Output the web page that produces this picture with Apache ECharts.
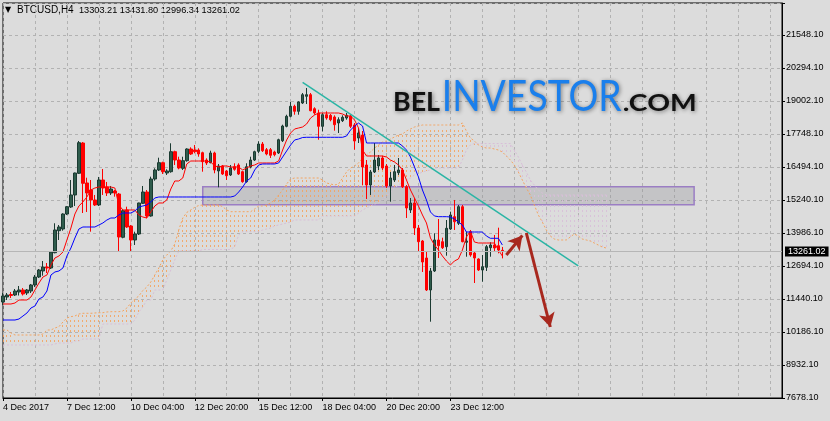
<!DOCTYPE html>
<html><head><meta charset="utf-8">
<script src="https://cdn.jsdelivr.net/npm/echarts/dist/echarts.min.js"></script>
<style>html,body{margin:0;padding:0;background:#dcdcdc}#c{width:830px;height:421px}</style>
</head><body><div id="c"></div>
<script>
// ---------- data ----------
const xTickLabels = ['4 Dec 2017','7 Dec 12:00','10 Dec 04:00','12 Dec 20:00','15 Dec 12:00','18 Dec 04:00','20 Dec 20:00','23 Dec 12:00'];
const yTickLabels = ['7678.10','8932.10','10186.10','11440.10','12694.10','13986.10','15240.10','16494.10','17748.10','19002.10','20294.10','21548.10'];
const symbolName = 'BTCUSD,H4';

const candleOpen = [
11331,11522,11617,11598,11713,11790,11675,11751,11981,12285,
12515,12667,12629,13213,14053,14118,14690,14957,15416,16244,
17400,15874,15606,15225,15034,15988,15721,15492,15568,15454,
13801,14843,14232,13698,13927,15098,15530,14614,16026,16370,
16649,16255,16305,17068,16751,16434,16725,17171,17133,17133,
17030,16751,16649,17019,16332,16523,16332,16179,16496,16561,
16305,15923,16484,16751,17083,17362,17145,17145,17057,17019,
17488,18037,18419,18801,18610,18927,19183,19244,18709,18545,
18037,18480,18457,18393,18164,18251,18354,18419,18087,17591,
17706,16561,15797,16294,16523,16828,16523,15759,15988,16267,
16370,15732,14843,15110,14156,13660,13011,11790,12515,13698,
13633,13442,14118,14587,14336,14969,13610,14015,13202,12973,
12553,12656,13404,13507,13480,13303.21];
const candleClose = [
11560,11598,11579,11751,11790,11637,11790,11981,12285,12553,
12667,12629,13240,14080,14194,14690,14969,15416,16255,17412,
15862,15492,15225,15034,15988,15683,15492,15644,15492,13812,
14816,14194,13698,13927,15110,15530,14614,16026,16370,16649,
16305,16332,17068,16751,16446,16725,17171,16980,17068,16980,
16687,16637,17019,16370,16523,16217,16152,16446,16396,16217,
15923,16496,16751,17068,17362,17106,16980,16931,16954,17526,
18049,18419,18801,18610,18965,19244,19244,18633,18545,18037,
18480,18354,18289,18099,18289,18381,18457,18037,17477,17782,
16484,15797,16294,16751,16828,16446,15759,16064,16305,16370,
15732,14919,15110,14156,13633,12858,11790,12515,13698,13480,
13404,14144,14652,14396,14969,13633,13660,13125,13011,12553,
12679,13442,13507,13392,13316,13261.02];
const candleLow = [
11217,11408,11484,11560,11579,11579,11598,11675,11904,12247,
12335,12438,12591,13190,13698,14053,14652,14919,14996,16217,
14728,14767,14015,14996,14996,15416,15377,15416,15351,13251,
13763,14156,13251,13507,13889,15072,14526,14587,15961,16332,
16217,16179,16267,16561,16396,16370,16687,16942,17007,16877,
16305,16561,16625,16244,15709,16179,15988,16141,16343,16179,
15885,15885,16434,16713,17019,17057,16931,16828,16892,16980,
17438,17999,18381,18480,18480,18889,18889,18610,18480,17526,
17846,18289,18228,17870,17782,18202,18289,17973,17145,17400,
15797,15263,15416,16255,16370,16370,15683,15160,15912,16179,
15683,14538,14728,13889,13251,12477,11751,10579,12477,13011,
13354,13098,14080,14080,14270,13610,13060,13060,12056,12515,
12106,12515,13060,13251,13190,12996.34];
const candleHigh = [
11675,11675,11713,11827,11942,11866,11827,12019,12362,12591,
12896,12820,13278,14336,14270,14717,14996,15988,16268,17477,
17438,16076,15988,15416,16103,16408,15912,15759,15606,15492,
14881,14969,14270,14015,15122,15759,15606,16115,16435,16839,
16687,16396,17389,17106,16877,16877,17198,17236,17324,17198,
17068,16816,17106,17068,16599,16561,16370,16561,16625,16625,
16332,16625,16877,17106,17465,17438,17209,17209,17106,17564,
18099,18480,18965,18862,18992,19309,19500,19309,18763,18671,
18545,18610,18507,18457,18381,18457,18545,18480,18164,17973,
17858,16751,16370,17400,16942,16904,16599,16294,16561,16828,
16446,15797,15301,15301,14270,13698,13240,12629,13953,14499,
13786,14461,14778,15225,15034,15034,14015,14080,13251,12999,
13125,13507,13610,13889,14168,13431.80];

const tenkanSen = [
11255,11255,11255,11293,11408,11408,11408,11522,11790,12056,
12285,12362,12744,13011,13087,13240,13698,14156,14690,14996,
15148,15339,15606,15683,15721,15721,15721,15721,15683,15034,
14843,14843,14843,14843,14652,14576,14538,14767,14996,15110,
15110,15225,15644,15950,15950,16064,16599,16713,16713,16713,
16713,16713,16675,16523,16484,16523,16523,16484,16484,16484,
16370,16446,16523,16561,16637,16637,16637,16637,16637,16713,
17133,17515,17782,17935,17973,18011,18125,18354,18469,18545,
18545,18545,18545,18545,18545,18507,18431,18431,18278,17973,
17133,16904,16904,16904,16904,16904,16866,16751,16675,16561,
16370,15988,15606,15301,14996,14652,14347,13774,13507,13316,
13087,12896,12744,12896,12973,13316,13812,14041,13621,13583,
13583,13583,13583,13583,13316,13087];
const kijunSen = [
10644,10644,10644,10644,10682,10797,10912,11102,11179,11446,
11522,11751,12362,12477,12515,12629,13087,13392,13774,14118,
14194,14194,14194,14194,14270,14347,14461,14538,14538,14652,
14728,14728,14728,14805,14957,14996,15034,15148,15301,15339,
15339,15339,15339,15339,15339,15339,15339,15339,15339,15339,
15339,15339,15339,15339,15339,15339,15339,15339,15377,15530,
15721,15950,16064,16370,16561,16599,16599,16599,16599,16637,
16866,17095,17324,17515,17553,17610,17618,17618,17618,17618,
17618,17618,17618,17618,17618,17618,17667,17896,18049,18164,
18049,17400,17400,17400,17400,17400,17400,17400,17400,17400,
17286,17133,16866,16484,16103,15606,15225,14767,14614,14588,
14588,14588,14576,14499,14385,14270,14003,14003,14003,14003,
14003,13850,13763,13763,13763,13507];
const senkouSpanA = [
10262,10262,10148,10071,10071,10071,10071,10071,10071,10071,
10110,10262,10262,10339,10389,10568,10721,10771,10797,10873,
10900,10900,10900,10912,10923,10923,10950,10961,10961,10961,
10988,11102,11293,11446,11560,11770,11904,12095,12362,12629,
12935,13125,13278,13545,14080,14538,14748,14843,14946,15015,
15034,15034,15034,15034,15034,14969,14843,14778,14778,14778,
14778,14778,14778,14881,14996,14996,15034,15110,15225,15416,
15606,15835,16026,16064,16064,16064,16064,16064,16064,16064,
15988,15874,15835,15797,15835,16064,16294,16446,16523,16637,
16828,16942,17057,17209,17324,17438,17477,17553,17629,17706,
17744,17858,17935,18011,18049,18087,18087,18087,18087,18087,
18087,18087,18087,18087,18087,18164,17858,17591,17477,17324,
17247,17209,17209,17171,17133,17057,16904,16751,16561,16294,
15988,15683,15416,15034,14652,14385,14080,13850,13736,13698,
13698,13698,13812,13927,13850,13736,13698,13660,13583,13507,
13431,13392];
const senkouSpanB = [
9690,9690,9690,9690,9690,9690,9690,9690,9690,9690,
9690,9690,9690,9728,9766,9766,9766,9766,9842,9842,
9919,9919,9919,9919,9919,10491,10491,10491,10491,10491,
10491,10491,10491,10644,10950,11141,11408,11408,11790,11790,
11790,12171,12553,12935,13278,13278,13278,13278,13278,13278,
13335,13335,13335,13335,13335,13335,13335,13335,13442,13889,
14015,14015,14015,14015,14015,14080,14118,14156,14232,14270,
14308,14347,14385,14461,14461,14461,14461,14461,14461,14461,
14614,14614,14614,14614,14614,14614,14614,14614,14614,14728,
14843,14919,14996,15072,15110,15225,15377,15530,15683,15797,
15912,15988,16064,16179,16217,16294,16332,16370,16446,16446,
16446,16446,16446,16446,16446,16751,17133,17324,17381,17381,
17381,17381,17381,17381,17381,17381,17381,17381,17133,16866,
16561,16294,15988,15797,15606,15492,15416,15416,15416,15416,
15416,15416,15416,15416,15416,15416,15416,15416,15416,15416,
15416,15416];

// annotations (drawn in data coordinates: bar index, price)
const supportZone = { fromBar: 50, toBar: 173, top: 15732, bottom: 15045 };
const trendLine = { from: [75, 19717], to: [144, 12709] };
const arrowUp = { from: [126, 13125], to: [130, 13870] };
const arrowDown = { from: [131, 13965], to: [137, 10377] };

// ---------- chart ----------
const TOTAL_BARS = 196;
const categories = Array.from({length: TOTAL_BARS}, (_, i) => String(i));
const candles = candleOpen.map((o, i) => [o, candleClose[i], candleLow[i], candleHigh[i]]);
const cloud = senkouSpanA.map((a, i) => [i, a, senkouSpanB[i]]);
const last = candles.length - 1;
const lastClose = candleClose[last];

const FONT = '"Liberation Sans", Arial, sans-serif';
const GRID_TOP = 3, GRID_BOTTOM = 23, PX_PER_LABEL = 33;
const plotH = 421 - GRID_TOP - GRID_BOTTOM;
const DASH = 2, GAP = 3;

function measure(txt, size, family, weight) {
  const c = document.createElement('canvas').getContext('2d');
  c.font = (weight || 'normal') + ' ' + size + 'px ' + family;
  return c.measureText(txt).width;
}
function logoText(txt, left, right, capCenter, size, color, weight) {
  const fam = 'Lato';
  const w = measure(txt, size, fam, weight);
  return {
    type: 'text', x: left, y: capCenter, scaleX: (right - left) / w, z: 100, silent: true,
    style: {
      text: txt, fontSize: size, fontFamily: fam, fontWeight: weight || 'normal', fill: color,
      align: 'left', verticalAlign: 'middle', textAlign: 'left', textVerticalAlign: 'middle',
      textShadowColor: 'rgba(0,0,0,0.45)', textShadowBlur: 4, textShadowOffsetX: 1, textShadowOffsetY: 1
    }
  };
}

const chart = echarts.init(document.getElementById('c'), null, {renderer: 'canvas'});
chart.setOption({
  animation: false,
  backgroundColor: '#dcdcdc',
  textStyle: { fontFamily: FONT },
  grid: { left: 3, right: 48, top: GRID_TOP, bottom: GRID_BOTTOM, show: true, borderColor: '#000', borderWidth: 1, backgroundColor: 'transparent' },
  xAxis: {
    type: 'category', data: categories, boundaryGap: false,
    axisLine: { lineStyle: { color: '#000', width: 1 } },
    axisTick: { show: true, length: 3, interval: (i) => i % 16 === 0 && i / 16 < xTickLabels.length, lineStyle: { color: '#000' } },
    axisLabel: { interval: 15, align: 'left', margin: 5, fontSize: 9, color: '#000', fontFamily: FONT,
      formatter: (v, i) => (i % 16 === 0 && xTickLabels[i / 16]) || '' },
    splitLine: { show: true, interval: (i) => i % 8 === 0, lineStyle: { color: '#b2b2b2', type: [3, 3], width: 1 } }
  },
  yAxis: [
    { type: 'value', min: 7666.8, max: 22744, show: false, splitLine: { show: false } },
    { type: 'value', position: 'right', min: 0, max: plotH / PX_PER_LABEL, interval: 1,
      axisLine: { show: true, lineStyle: { color: '#000' } },
      axisTick: { show: true, length: 3, lineStyle: { color: '#000' } },
      axisLabel: { fontSize: 9, color: '#000', margin: 4, fontFamily: FONT, showMinLabel: true, showMaxLabel: true,
        formatter: (v) => (Math.abs(v - Math.round(v)) < 1e-6 && yTickLabels[Math.round(v)]) || '' },
      splitLine: { show: true, lineStyle: { color: '#b2b2b2', type: [3, 3], width: 1 } }
    }
  ],
  series: [
    { type: 'custom', name: 'cloud', z: 1, silent: true, clip: true, data: cloud,
      encode: { x: 0, y: [1, 2] },
      renderItem: (params, api) => {
        const i = api.value(0), a = api.value(1), b = api.value(2);
        const p1 = api.coord([i, a]), p2 = api.coord([i, b]);
        const x = Math.round(p1[0] - 0.5) + 0.5;
        const top = Math.min(p1[1], p2[1]), bot = Math.max(p1[1], p2[1]);
        const y0 = Math.ceil(top / (DASH + GAP)) * (DASH + GAP);
        return { type: 'line', shape: { x1: x, y1: y0, x2: x, y2: bot },
          style: { stroke: a >= b ? '#f4a460' : '#d8bfd8', lineWidth: 1, lineDash: [DASH, GAP], opacity: 0.9 } };
      }
    },
    { type: 'line', name: 'Senkou A', z: 1, data: senkouSpanA, symbol: 'none', silent: true,
      lineStyle: { color: '#f4a460', width: 1, type: [2, 2] } },
    { type: 'line', name: 'Senkou B', z: 1, data: senkouSpanB, symbol: 'none', silent: true,
      lineStyle: { color: '#d8bfd8', width: 1, type: [2, 2] } },
    { type: 'candlestick', name: symbolName, z: 2, data: candles, barWidth: 3, silent: true,
      itemStyle: { color: '#2f5c4c', borderColor: '#1b3a31', color0: '#ff0000', borderColor0: '#ff0000', borderWidth: 1 },
      markLine: { silent: true, symbol: ['none', 'none'], animation: false,
        lineStyle: { color: '#b6b6b6', type: 'solid', width: 1 },
        label: { show: true, position: 'end', distance: 3, formatter: lastClose.toFixed(2), color: '#fff',
          backgroundColor: '#000', padding: [1, 3, 0, 3], fontSize: 9, fontFamily: FONT },
        data: [{ yAxis: lastClose }] }
    },
    { type: 'line', name: 'Tenkan-sen', z: 3, data: tenkanSen, symbol: 'none', silent: true,
      lineStyle: { color: '#ff0000', width: 1 } },
    { type: 'line', name: 'Kijun-sen', z: 3, data: kijunSen, symbol: 'none', silent: true,
      lineStyle: { color: '#0000ff', width: 1 } },
    { type: 'line', name: 'zone', z: 4, data: [], silent: true,
      markArea: { silent: true,
        itemStyle: { color: 'rgba(145,145,152,0.32)', borderColor: '#9b7ec4', borderWidth: 1.5 },
        data: [[{ coord: [supportZone.fromBar, supportZone.top] }, { coord: [supportZone.toBar, supportZone.bottom] }]] }
    },
    { type: 'line', name: 'trend', z: 5, data: [], silent: true,
      markLine: { silent: true, symbol: ['none', 'none'], label: { show: false },
        lineStyle: { color: '#2ab5a5', width: 1.5, type: 'solid' },
        data: [[{ coord: trendLine.from }, { coord: trendLine.to }]] }
    },
    { type: 'line', name: 'arrows', z: 6, data: [], silent: true,
      markLine: { silent: true, symbol: ['none', 'arrow'], symbolSize: [12, 14], label: { show: false },
        lineStyle: { color: '#a8281e', width: 3, type: 'solid' },
        data: [[{ coord: arrowUp.from }, { coord: arrowUp.to }], [{ coord: arrowDown.from }, { coord: arrowDown.to }]] }
    }
  ],
  graphic: [
    { type: 'text', x: 5, y: 10, silent: true, style: { text: '\u25BC', fontSize: 8, fontFamily: '"DejaVu Sans"', fill: '#000', verticalAlign: 'middle', textVerticalAlign: 'middle' } },
    { type: 'text', x: 17, y: 10, silent: true, style: { text: symbolName, fontSize: 10, fontFamily: FONT, fill: '#000', verticalAlign: 'middle', textVerticalAlign: 'middle' } },
    { type: 'text', x: 79, y: 10, silent: true, style: { text: [candleOpen[last], candleHigh[last], candleLow[last], candleClose[last]].map(v => v.toFixed(2)).join(' '),
        fontSize: 9.2, fontFamily: FONT, fill: '#000', verticalAlign: 'middle', textVerticalAlign: 'middle' } },
    logoText('BEL', 393, 440, 102.5, 26.5, '#111', 'bold'),
    logoText('INVESTOR', 441.7, 621.7, 97, 42, '#1a7fec'),
    logoText('.COM', 622.7, 696.7, 103.5, 23.7, '#111', 'bold')
  ]
});
</script>
</body></html>
